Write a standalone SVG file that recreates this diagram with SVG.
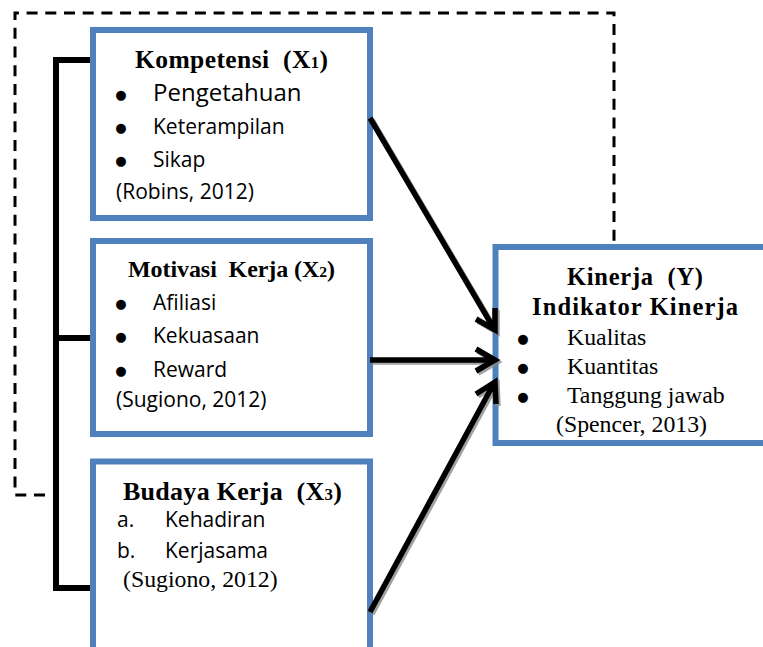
<svg xmlns="http://www.w3.org/2000/svg" width="763" height="647" viewBox="0 0 763 647">
<style>
text{white-space:pre}
.box{fill:#fff;stroke:#4F81BD;stroke-width:6}
.t{font-family:"Liberation Serif","Times New Roman",serif;font-weight:bold;fill:#000}
.s{font-family:"Liberation Serif","Times New Roman",serif;fill:#000;font-size:23.8px}
.o{font-family:"Open Sans","Liberation Sans",sans-serif;fill:#000;font-size:21px}
.b{font-family:"DejaVu Sans",sans-serif;fill:#000;font-size:13px;text-anchor:middle}
.sub{font-size:65%}
.arr{fill:none;stroke-width:5.5;stroke-linecap:butt;stroke-linejoin:miter}
</style>
<g id="connectors">
  <path d="M45,495 H15 V13 H614 V246" fill="none" stroke="#000" stroke-width="3" stroke-dasharray="11 7.7"/>
  <path d="M93,60 H56 V588 H93 M56,338 H93" fill="none" stroke="#000" stroke-width="6"/>
</g>
<g id="kompetensi">
  <rect class="box" x="93" y="30" width="277" height="188"/>
  <text class="t" x="135" y="68" font-size="25.5" textLength="193">Kompetensi  (X<tspan class="sub">1</tspan>)</text>
  <text class="b" x="121" y="99">●</text>
  <text class="o" x="153" y="101" style="font-size:24px">Pengetahuan</text>
  <text class="b" x="121" y="132">●</text>
  <text class="o" x="153" y="134">Keterampilan</text>
  <text class="b" x="121" y="165">●</text>
  <text class="o" x="153" y="167">Sikap</text>
  <text class="o" x="116" y="199">(Robins, 2012)</text>
</g>
<g id="motivasi">
  <rect class="box" x="93" y="241" width="277" height="193"/>
  <text class="t" x="128" y="277" font-size="24" textLength="207">Motivasi  Kerja (X<tspan class="sub">2</tspan>)</text>
  <text class="b" x="121" y="308">●</text>
  <text class="o" x="153" y="310">Afiliasi</text>
  <text class="b" x="121" y="341">●</text>
  <text class="o" x="153" y="343">Kekuasaan</text>
  <text class="b" x="121" y="375">●</text>
  <text class="o" x="153" y="377">Reward</text>
  <text class="o" x="116" y="407">(Sugiono, 2012)</text>
</g>
<g id="budaya">
  <rect class="box" x="93" y="461.5" width="277" height="200"/>
  <text class="t" x="123" y="500" font-size="26" textLength="219">Budaya Kerja  (X<tspan class="sub">3</tspan>)</text>
  <text class="o" x="117" y="527">a.</text>
  <text class="o" x="165" y="527">Kehadiran</text>
  <text class="o" x="117" y="558">b.</text>
  <text class="o" x="165" y="558">Kerjasama</text>
  <text class="s" x="123" y="587">(Sugiono, 2012)</text>
</g>
<g id="kinerja">
  <rect class="box" x="495.5" y="247" width="280" height="196"/>
  <text class="t" x="567" y="285" font-size="24.5" textLength="136">Kinerja  (Y)</text>
  <text class="t" x="532" y="315" font-size="24.5" textLength="206">Indikator Kinerja</text>
  <text class="b" x="523" y="343">●</text>
  <text class="s" x="567" y="345">Kualitas</text>
  <text class="b" x="523" y="372">●</text>
  <text class="s" x="567" y="374">Kuantitas</text>
  <text class="b" x="523" y="401">●</text>
  <text class="s" x="567" y="403">Tanggung jawab</text>
  <text class="s" x="556" y="432">(Spencer, 2013)</text>
</g>
<g id="arrows">
  <g stroke="#8a8a8a" transform="translate(2,2)" opacity="0.8">
    <path class="arr" d="M370,118 L493,327 M476,319 L495,330 L495,308"/>
    <path class="arr" d="M370,360 L492,360 M476,349 L495,360 L476,371"/>
    <path class="arr" d="M370,612 L493,385 M476,394 L495,382 L496,404"/>
  </g>
  <g stroke="#000">
    <path class="arr" d="M370,118 L493,327 M476,319 L495,330 L495,308"/>
    <path class="arr" d="M370,360 L492,360 M476,349 L495,360 L476,371"/>
    <path class="arr" d="M370,612 L493,385 M476,394 L495,382 L496,404"/>
  </g>
</g>
</svg>
